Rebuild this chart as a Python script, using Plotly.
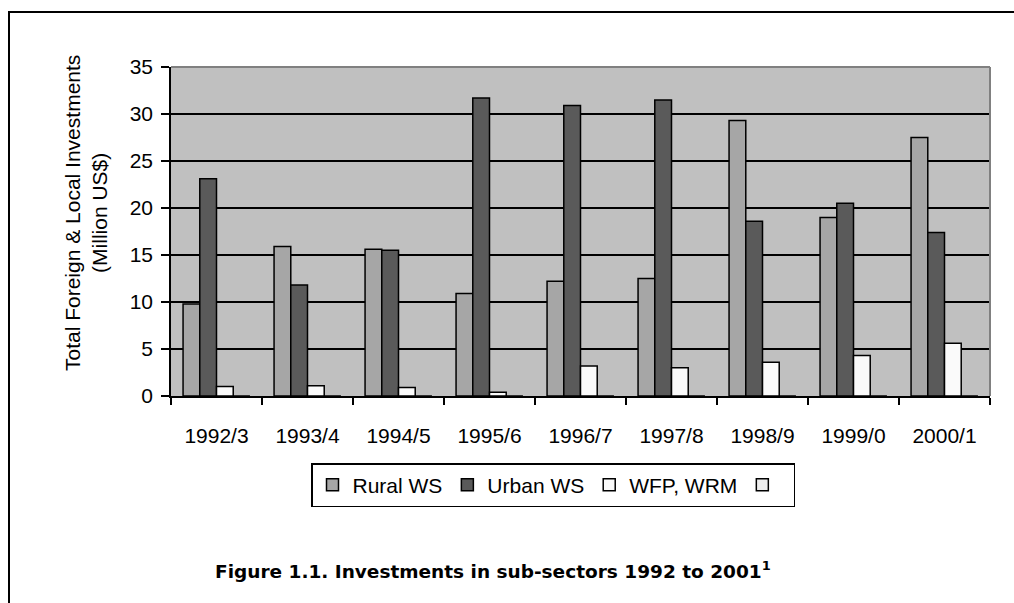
import plotly.graph_objects as go

categories = ["1992/3", "1993/4", "1994/5", "1995/6", "1996/7", "1997/8", "1998/9", "1999/0", "2000/1"]
rural_ws = [9.8, 15.9, 15.6, 10.9, 12.2, 12.5, 29.3, 19.0, 27.5]
urban_ws = [23.1, 11.8, 15.5, 31.7, 30.9, 31.5, 18.6, 20.5, 17.4]
wfp_wrm = [1.0, 1.1, 0.9, 0.4, 3.2, 3.0, 3.6, 4.3, 5.6]
other = [0, 0, 0, 0, 0, 0, 0, 0, 0]
y_ticks = [0, 5, 10, 15, 20, 25, 30, 35]

series = [
    ("Rural WS", rural_ws, "#a6a6a6"),
    ("Urban WS", urban_ws, "#5a5a5a"),
    ("WFP, WRM", wfp_wrm, "#fafafa"),
    (" ", other, "#eeeeee"),
]

L, R, T, B = 171, 990, 67, 396
PW, PH = R - L, B - T


def px(x):
    return (x - L) / PW


def py(y):
    return (B - y) / PH


fig = go.Figure()
for name, vals, col in series:
    fig.add_trace(go.Bar(
        x=categories, y=vals, name=name,
        marker=dict(color=col, line=dict(color="black", width=1.5)),
    ))

fig.update_layout(
    width=1014, height=603,
    margin=dict(l=L, r=1014 - R, t=T, b=603 - B),
    paper_bgcolor="white",
    plot_bgcolor="#c0c0c0",
    barmode="group",
    bargap=0.265,
    bargroupgap=0,
    font=dict(family="Liberation Sans, Arial, sans-serif", size=21, color="black"),
    showlegend=True,
    legend=dict(
        orientation="h",
        x=px(553), xanchor="center",
        y=py(463), yanchor="top",
        bgcolor="white",
        bordercolor="black", borderwidth=1.5,
        font=dict(size=21),
        itemwidth=30,
        tracegroupgap=0,
    ),
    xaxis=dict(
        type="category",
        tickson="boundaries",
        ticks="outside", ticklen=7, tickcolor="black", tickwidth=1.5,
        showline=True, linecolor="black", linewidth=1.5,
        showgrid=False,
        ticklabelstandoff=20,
        tickfont=dict(size=21),
    ),
    yaxis=dict(
        range=[0, 35],
        tickvals=y_ticks,
        ticks="outside", ticklen=8, tickcolor="black", tickwidth=1.5,
        showline=True, linecolor="black", linewidth=1.5,
        showgrid=True, gridcolor="black", gridwidth=1.5,
        zeroline=False,
        tickfont=dict(size=21),
        ticklabelstandoff=4,
    ),
)

# plot border top/right in gray
fig.add_shape(type="line", xref="paper", yref="paper", x0=0, x1=1, y0=1, y1=1,
              line=dict(color="#808080", width=2))
fig.add_shape(type="line", xref="paper", yref="paper", x0=1, x1=1, y0=0, y1=1,
              line=dict(color="#808080", width=2))

# outer frame (top and left only)
fig.add_shape(type="line", xref="paper", yref="paper",
              x0=px(8), x1=px(1014), y0=py(12), y1=py(12),
              line=dict(color="black", width=2))
fig.add_shape(type="line", xref="paper", yref="paper",
              x0=px(9), x1=px(9), y0=py(12), y1=py(603),
              line=dict(color="black", width=2))

# y axis title
fig.add_annotation(
    text="Total Foreign & Local Investments<br>(Million US$)",
    xref="paper", yref="paper",
    x=px(86), y=py(213),
    xanchor="center", yanchor="middle",
    textangle=-90, showarrow=False,
    font=dict(size=21),
)

# figure caption
fig.add_annotation(
    text="<b>Figure 1.1. Investments in sub-sectors 1992 to 2001<sup>1</sup></b>",
    xref="paper", yref="paper",
    x=px(493), y=py(570),
    xanchor="center", yanchor="middle",
    showarrow=False,
    font=dict(family="DejaVu Sans", size=18.5),
)

fig.write_html(
    "out.html",
    config={"displayModeBar": False},
    post_script="document.body.style.margin='0';document.body.style.overflow='hidden';",
)
